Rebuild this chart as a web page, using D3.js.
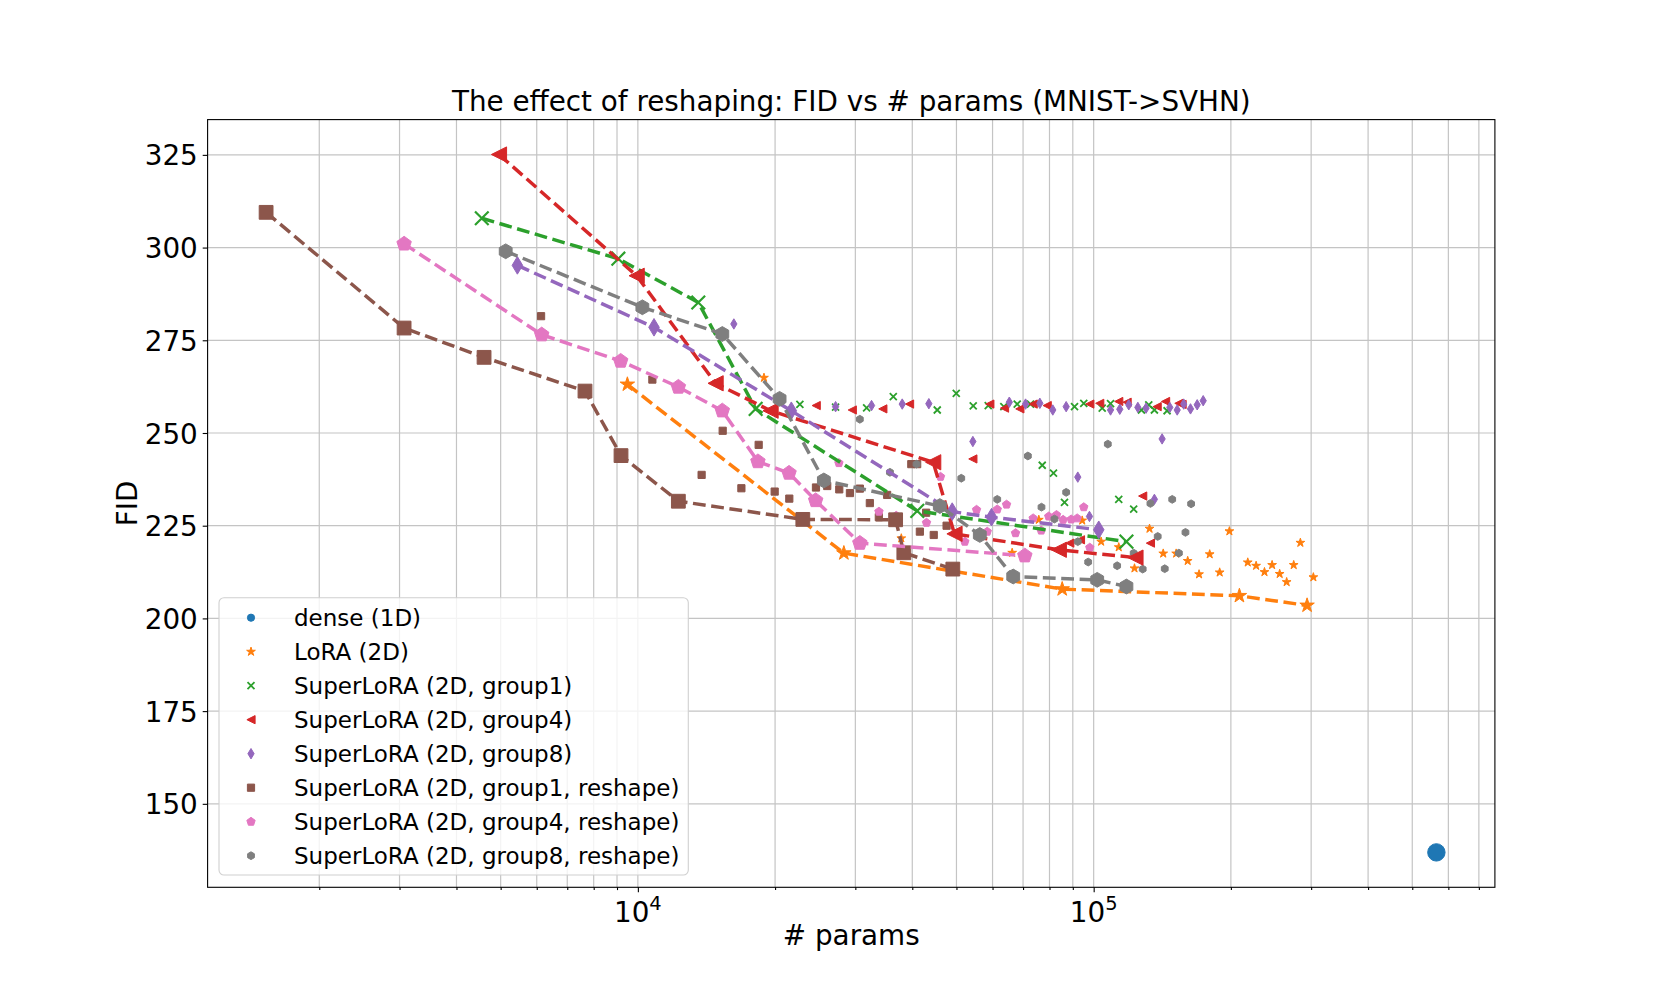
<!DOCTYPE html>
<html>
<head>
<meta charset="utf-8">
<script src="https://cdn.jsdelivr.net/npm/d3@7"></script>
<style>
  body { margin: 0; background: #fff; }
  text { font-family: "DejaVu Sans", sans-serif; fill: #000; }
</style>
</head>
<body>
<script>
// ---- data: [# params, FID] ----
const denseLine = [[564800, 136.9]];

const loraPts = [[18910,264.9],[37840,221.6],[66250,217.7],[75800,226.6],[94380,226.4],[103850,220.7],
  [113500,219.2],[122900,213.5],[132600,224.2],[142100,217.5],[151700,217.5],[160800,215.5],[170300,211.9],
  [179700,217.3],[189000,212.4],[198500,223.5],[217800,215.1],[227200,214.2],[237000,212.5],[246300,214.4],
  [255900,212],[265100,209.8],[274700,214.4],[284100,220.4],[303400,211.1]];
const loraLine = [[9484,263.1],[28310,217.6],[85300,207.9],[208800,206.1],[293900,203.5]];

const g1Pts = [[22670,257.7],[27150,257],[31760,256.8],[36340,259.8],[45380,256.2],[49950,260.7],[54420,257.3],
  [58700,257.4],[63520,257.1],[67960,257.8],[72680,257.8],[90780,257.1],[95120,258],[104400,256.7],[108900,257.9],
  [127300,256.2],[132100,257.6],[135900,256.2],[144900,256],[77120,241.3],[81630,239.2],[86300,231.3],
  [113500,232.1],[122400,229.5]];
const g1Line = [[4546,307.9],[9061,297],[13570,285.2],[18130,256.5],[41020,229],[118000,220.7]];

const g4Pts = [[24620,257.4],[29540,256.2],[34470,256.5],[39450,257.8],[59180,257.8],[63740,256.7],[68870,256.5],
  [73660,257.8],[79070,257.4],[98060,257.8],[103100,258],[113500,258.5],[118400,258.3],[137800,257.1],
  [143800,258.5],[153800,258],[156300,257.7],[54320,243],[128100,233],[133200,220.3],[88630,220.3],[93540,221.2]];
const g4Line = [[4958,325.1],[9940,292.4],[14810,263.4],[19550,256],[44460,242.1],[49510,222.8],[83850,218.5],[123500,216.4]];

const g8Pts = [[16240,279.4],[27150,257.1],[32560,257.4],[38020,257.8],[43490,257.9],[54320,247.7],[65300,258.3],
  [70890,257.8],[76190,258],[81340,256.2],[87030,257.1],[108900,256.2],[114100,256.4],[119400,257.6],[125000,256.9],
  [130300,256.7],[146900,256.9],[152500,256.2],[157600,257.8],[163100,256.5],[168700,257.6],[173900,258.7],
  [141300,248.4],[92290,238.1],[97900,227.5],[135900,232.1]];
const g8Line = [[5441,295.2],[10850,278.5],[21710,256],[48940,228.8],[59690,227.3],[102600,223.9]];

const g1rPts = [[6133,281.5],[10760,264.4],[13800,238.7],[15350,250.6],[16870,235.1],[18410,246.8],[19960,234.2],
  [21490,232.3],[24590,235.3],[26030,235.7],[27660,234.8],[29190,233.8],[30690,235],[32280,231.1],[33780,227.3],
  [35230,233.3],[39800,241.6],[41000,241.6],[41560,223.4],[42900,228.5],[44580,222.5],[47570,225]];
const g1rLine = [[1529,309.5],[3070,278.3],[4598,270.4],[7656,261.3],[9184,243.9],[12270,231.6],[23010,226.7],
  [36770,226.6],[38330,217.7],[49090,213.3]];

const g4rPts = [[27610,241.9],[33800,228.8],[36880,227.7],[42980,225.8],[46130,238.2],[52150,220.7],[55340,229.3],
  [58410,223.4],[61440,229.4],[64400,230.7],[67380,223],[73660,227],[76720,223.7],[79690,227.5],[82880,227.9],
  [85700,226.6],[89260,226.7],[92010,227],[95120,230],[98060,219.1]];
const g4rLine = [[3070,301],[6152,276.5],[9168,269.4],[12270,262.4],[15320,256],[18340,242.3],[21460,239.2],
  [24550,231.8],[30690,220.3],[70630,216.9]];

const g8rPts = [[30690,253.7],[35730,239.4],[40870,241.6],[51230,237.8],[61440,232.1],[71720,243.8],[76830,230],
  [82030,226.8],[87030,234],[92290,220.7],[97270,215.2],[107400,247],[112600,214.2],[122400,217.6],[128100,213.3],
  [133200,231],[138200,222.1],[143200,213.4],[148700,232.1],[153800,217.6],[159000,223.2],[163600,230.9]];
const g8rLine = [[5129,299],[10230,283.9],[15320,276.7],[20460,259.2],[25590,237.2],[45970,230.3],[56260,222.5],
  [66600,211.3],[101800,210.4],[118000,208.6]];

const seriesNames = ["dense (1D)", "LoRA (2D)", "SuperLoRA (2D, group1)", "SuperLoRA (2D, group4)",
  "SuperLoRA (2D, group8)", "SuperLoRA (2D, group1, reshape)", "SuperLoRA (2D, group4, reshape)",
  "SuperLoRA (2D, group8, reshape)"];
const yTicks = [150, 175, 200, 225, 250, 275, 300, 325];
const xMajor = [1e4, 1e5];

// styling per series (same order as names)
const colors = ["#1f77b4", "#ff7f0e", "#2ca02c", "#d62728", "#9467bd", "#8c564b", "#e377c2", "#7f7f7f"];
const shapes = ["circle", "star", "x", "triLeft", "thinDiamond", "square", "pentagon", "hexagon"];
const smallR = [3.6, 4.6, 3.5, 4.1, 5.2, 3.6, 4.4, 3.9];
const bigR   = [8.7, 7.6, 6.8, 7.6, 8.8, 6.9, 7.6, 7.4];
const scatterData = [[], loraPts, g1Pts, g4Pts, g8Pts, g1rPts, g4rPts, g8rPts];
const lineData = [denseLine, loraLine, g1Line, g4Line, g8Line, g1rLine, g4rLine, g8rLine];

let width = 1661;
let height = 997;
let plot = {left: 207.6, right: 1494.9, top: 119.6, bottom: 887.3};
let fontPx = 27.8;    // 20pt
let legendPx = 23;

let svg = d3.select("body").append("svg")
            .attr("width", width)
            .attr("height", height);

// autoscale like matplotlib: 5% margin (log space for x)
let allPts = scatterData.concat(lineData).flat();
let lx = d3.extent(allPts, d => Math.log10(d[0]));
let ly = d3.extent(allPts, d => d[1]);
let padX = (lx[1] - lx[0]) * 0.05, padY = (ly[1] - ly[0]) * 0.05;

let x = d3.scaleLog()
          .domain([Math.pow(10, lx[0] - padX), Math.pow(10, lx[1] + padX)])
          .range([plot.left, plot.right]);
let y = d3.scaleLinear()
          .domain([ly[0] - padY, ly[1] + padY])
          .range([plot.bottom, plot.top]);

// minor tick positions inside the domain
let xMinor = [];
for (let e = 3; e <= 5; e++) {
  for (let m = 2; m <= 9; m++) {
    let v = m * Math.pow(10, e);
    if (v > x.domain()[0] && v < x.domain()[1]) xMinor.push(v);
  }
}

function markerPath(kind, r) {
  let p = d3.path();
  if (kind === "circle") {
    p.moveTo(r, 0); p.arc(0, 0, r, 0, 2 * Math.PI);
  } else if (kind === "square") {
    p.rect(-r, -r, 2 * r, 2 * r);
  } else if (kind === "pentagon" || kind === "hexagon") {
    let n = kind === "pentagon" ? 5 : 6;
    for (let i = 0; i < n; i++) {
      let a = -Math.PI / 2 + i * 2 * Math.PI / n;
      if (i === 0) p.moveTo(r * Math.cos(a), r * Math.sin(a));
      else p.lineTo(r * Math.cos(a), r * Math.sin(a));
    }
    p.closePath();
  } else if (kind === "star") {
    for (let i = 0; i < 10; i++) {
      let a = -Math.PI / 2 + i * Math.PI / 5;
      let rr = i % 2 ? r * 0.382 : r;
      if (i === 0) p.moveTo(rr * Math.cos(a), rr * Math.sin(a));
      else p.lineTo(rr * Math.cos(a), rr * Math.sin(a));
    }
    p.closePath();
  } else if (kind === "triLeft") {
    p.moveTo(-r, 0); p.lineTo(r, -r); p.lineTo(r, r); p.closePath();
  } else if (kind === "thinDiamond") {
    p.moveTo(0, -r); p.lineTo(0.6 * r, 0); p.lineTo(0, r); p.lineTo(-0.6 * r, 0); p.closePath();
  } else if (kind === "x") {
    p.moveTo(-r, -r); p.lineTo(r, r); p.moveTo(-r, r); p.lineTo(r, -r);
  }
  return p.toString();
}

function drawMarker(sel, i, r) {
  let isX = shapes[i] === "x";
  sel.attr("d", markerPath(shapes[i], r))
     .attr("fill", isX ? "none" : colors[i])
     .attr("stroke", colors[i])
     .attr("stroke-width", isX ? (r > 5 ? 2.2 : 1.8) : 1)
     .attr("stroke-linejoin", "miter");
}

// grid
let grid = svg.append("g").attr("class", "grid");
grid.selectAll("line.gx").data(xMajor.concat(xMinor)).enter().append("line")
    .attr("x1", d => x(d)).attr("x2", d => x(d))
    .attr("y1", plot.top).attr("y2", plot.bottom)
    .attr("stroke", "#c4c4c4").attr("stroke-width", 1.2);
grid.selectAll("line.gy").data(yTicks).enter().append("line")
    .attr("x1", plot.left).attr("x2", plot.right)
    .attr("y1", d => y(d)).attr("y2", d => y(d))
    .attr("stroke", "#c4c4c4").attr("stroke-width", 1.2);

// axes
svg.append("g").attr("transform", `translate(0,${plot.bottom})`)
  .call(d3.axisBottom(x).tickValues(xMajor).tickSize(4.9).tickFormat(() => ""));
svg.append("g").attr("transform", `translate(0,${plot.bottom})`)
  .call(d3.axisBottom(x).tickValues(xMinor).tickSize(2.8).tickFormat(() => ""));
let yAxisG = svg.append("g").attr("transform", `translate(${plot.left},0)`)
  .call(d3.axisLeft(y).tickValues(yTicks).tickSize(4.9).tickPadding(4.9));
svg.selectAll(".domain").remove();
svg.selectAll(".tick line").attr("stroke", "#000").attr("stroke-width", 1.1);

yAxisG.selectAll(".tick text")
  .attr("font-size", fontPx).attr("font-family", "DejaVu Sans, sans-serif")
  .attr("fill", "#000").attr("dy", "0.36em");

xMajor.forEach(v => {
  let t = svg.append("text")
    .attr("x", x(v)).attr("y", 922)
    .attr("text-anchor", "middle")
    .attr("font-size", fontPx);
  t.append("tspan").text("10");
  t.append("tspan").attr("font-size", fontPx * 0.7).attr("dy", -12).text(Math.round(Math.log10(v)));
});

// frame
svg.append("rect")
   .attr("x", plot.left).attr("y", plot.top)
   .attr("width", plot.right - plot.left).attr("height", plot.bottom - plot.top)
   .attr("fill", "none").attr("stroke", "#000").attr("stroke-width", 1.1);

// scatter points (drawn under the lines)
scatterData.forEach((pts, i) => {
  svg.append("g").selectAll("path").data(pts).enter().append("path")
     .attr("transform", d => `translate(${x(d[0])},${y(d[1])})`)
     .call(sel => drawMarker(sel, i, smallR[i]));
});

// dashed lines with big markers
let line = d3.line().x(d => x(d[0])).y(d => y(d[1]));
lineData.forEach((pts, i) => {
  let g = svg.append("g");
  if (pts.length > 1) {
    g.append("path").datum(pts)
     .attr("d", line)
     .attr("fill", "none")
     .attr("stroke", colors[i])
     .attr("stroke-width", 3.47)
     .attr("stroke-dasharray", "12.8,5.6");
  }
  g.selectAll("path.m").data(pts).enter().append("path")
   .attr("class", "m")
   .attr("transform", d => `translate(${x(d[0])},${y(d[1])})`)
   .call(sel => drawMarker(sel, i, bigR[i]));
});

// title and labels
svg.append("text")
   .attr("x", (plot.left + plot.right) / 2).attr("y", 111)
   .attr("text-anchor", "middle").attr("font-size", fontPx)
   .text("The effect of reshaping: FID vs # params (MNIST->SVHN)");
svg.append("text")
   .attr("x", (plot.left + plot.right) / 2).attr("y", 945)
   .attr("text-anchor", "middle").attr("font-size", fontPx)
   .text("# params");
svg.append("text")
   .attr("transform", `translate(136.7,${(plot.top + plot.bottom) / 2}) rotate(-90)`)
   .attr("text-anchor", "middle").attr("font-size", fontPx)
   .text("FID");

// legend
let legend = svg.append("g");
legend.append("rect")
      .attr("x", 219).attr("y", 597.7).attr("width", 469.3).attr("height", 277.3)
      .attr("rx", 5).attr("ry", 5)
      .attr("fill", "#fff").attr("fill-opacity", 0.8)
      .attr("stroke", "#d0d0d0").attr("stroke-width", 1.1);
seriesNames.forEach((name, i) => {
  let cy = 617.7 + i * 34;
  legend.append("path")
        .attr("transform", `translate(251,${cy})`)
        .call(sel => drawMarker(sel, i, smallR[i]));
  legend.append("text")
        .attr("x", 294).attr("y", cy + 8.4)
        .attr("font-size", legendPx)
        .text(name);
});
</script>
</body>
</html>
